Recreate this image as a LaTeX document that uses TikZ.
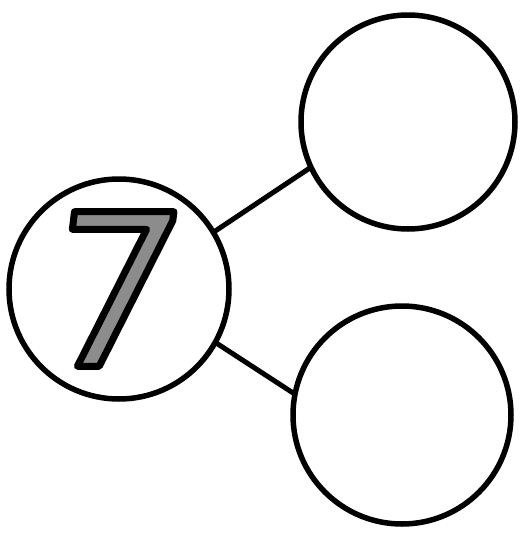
\documentclass[tikz,border=0pt]{standalone}
\usepackage{fontspec}
\setmainfont{DejaVu Sans}
\newfontfamily\digitfont[FakeSlant=0.12]{DejaVu Sans}
\definecolor{digitgray}{RGB}{140,140,140}
\newcommand{\outlined}[1]{\textcolor{digitgray}{\special{pdf:code 0 0 0 RG 2 Tr 7 w 1 j}#1\special{pdf:code 0 Tr}}}
\begin{document}
\begin{tikzpicture}[x=1pt,y=-1pt,
  ring/.style={circle, draw=black, line width=5.5pt, inner sep=0pt, outer sep=0pt},
  link/.style={draw=black, line width=5pt},
  digit/.style={inner sep=0pt, outer sep=0pt, font=\digitfont\fontsize{212}{212}\selectfont}]
\fill[white] (0,0) rectangle (521,533);
\useasboundingbox (0,0) rectangle (521,533);
\node[ring, minimum size=220pt] (seven) at (119,289) {};
\node[ring, minimum size=214pt] (top) at (408,122) {};
\node[ring, minimum size=218pt] (bottom) at (402,415) {};
\node[digit] (d) at (106,289) {\outlined{7}};
\draw[link] (seven.31) -- (top.205);
\draw[link] (seven.-29) -- (bottom.169);
\end{tikzpicture}
\end{document}
